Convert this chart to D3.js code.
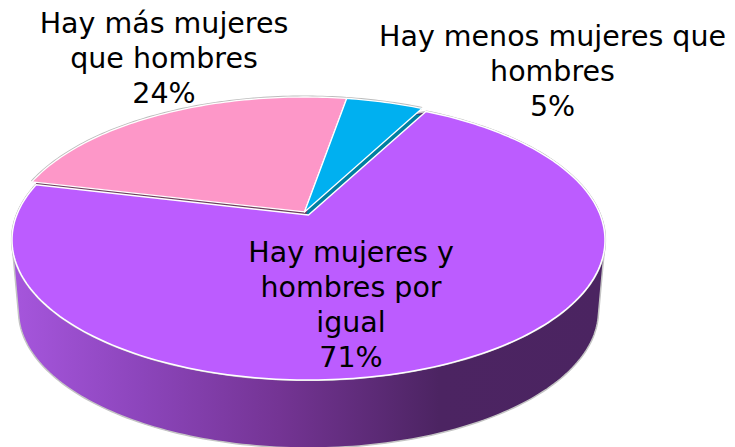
<!DOCTYPE html>
<html>
<head>
<meta charset="utf-8">
<script src="https://cdn.jsdelivr.net/npm/d3@7"></script>
<style>
html, body { margin: 0; padding: 0; background: #fff; }
svg { display: block; }
text { font-family: "DejaVu Sans", Inter, sans-serif; font-size: 28.5px; fill: #000; text-anchor: middle; }
</style>
</head>
<body>
<svg id="chart" width="735" height="447"></svg>
<script>
"use strict";

var categories = ["Hay mujeres y hombres por igual", "Hay más mujeres que hombres", "Hay menos mujeres que hombres"];
var values = [71, 24, 5];
var labelLines = [
    ["Hay mujeres y", "hombres por", "igual", "71%"],
    ["Hay más mujeres", "que hombres", "24%"],
    ["Hay menos mujeres que", "hombres", "5%"]
];
var colors = ["#bc5cff", "#fd97c8", "#00b0f0"];
var sideColors = ["#4b2461", "#6d3e5c", "#007fa0"];
var labelX = [351, 164, 552.5];
var labelY = [262, 33, 46];
var lineHeight = 35;

var svg = d3.select("#chart");

var defs = svg.append("defs");
var wallGradient = defs.append("linearGradient")
    .attr("id", "wall")
    .attr("gradientUnits", "userSpaceOnUse")
    .attr("x1", 12).attr("x2", 605).attr("y1", 0).attr("y2", 0);
wallGradient.append("stop").attr("offset", "0").attr("stop-color", "#a656dd");
wallGradient.append("stop").attr("offset", "0.22").attr("stop-color", "#8c45bb");
wallGradient.append("stop").attr("offset", "0.45").attr("stop-color", "#743494");
wallGradient.append("stop").attr("offset", "0.72").attr("stop-color", "#4c2462");
wallGradient.append("stop").attr("offset", "1").attr("stop-color", "#4b2461");

// the pie is seen in perspective: the centre sits above the middle of the ellipse
var tilt = -0.179;
var top_ = { cx: 308.5, cy: 240, rx: 296.5, ry: 140 };
var bottom = { cx: 308.5, cy: 311, rx: 290, ry: 137 };

function project(angle, r, e, dx, dy) {
    var u = Math.sin(angle) * r;
    var v = -Math.cos(angle) * r;
    var w = 1 + tilt * v;
    var s = Math.sqrt(1 - tilt * tilt);
    return [e.cx + e.rx * u * s / w + dx, e.cy + e.ry * (v + tilt) / w + dy];
}

function rimPoints(a0, a1, e, dx, dy) {
    var n = Math.ceil(Math.abs(a1 - a0) / 0.02);
    return d3.range(n + 1).map(function (i) {
        return project(a0 + (a1 - a0) * i / n, 1, e, dx, dy);
    });
}

var pie = d3.pie().sort(null)
    .startAngle(27.8 * Math.PI / 180)
    .endAngle(387.8 * Math.PI / 180);
var arcs = pie(values);
var line = d3.line();

// exploded offset of each slice
var shift = [[0, 0], [-4, -3], [-4, -3]];
var cutDepth = [0, 6, 7];

function slicePath(d, i, extraY) {
    var dx = shift[i][0];
    var dy = shift[i][1] + extraY;
    var pts = [project(0, 0, top_, dx, dy)]
        .concat(rimPoints(d.startAngle, d.endAngle, top_, dx, dy));
    return line(pts) + "Z";
}

function drawSlice(i) {
    var d = arcs[i];
    // thin cut face showing under the pulled out slice
    svg.append("path").attr("d", slicePath(d, i, cutDepth[i]))
        .attr("fill", sideColors[i]);
    svg.append("path")
        .attr("d", line(rimPoints(d.startAngle, d.endAngle, top_, shift[i][0], shift[i][1])))
        .attr("fill", "none").attr("stroke", "#bdbdbd").attr("stroke-width", 3);
    svg.append("path").attr("d", slicePath(d, i, 0))
        .attr("fill", colors[i])
        .attr("stroke", "#fff").attr("stroke-width", 1.3)
        .attr("stroke-linejoin", "round");
}

// wall goes in first, the hull of both rims gives straight sides
var big = arcs[0];
var wallPts = d3.polygonHull(rimPoints(big.startAngle, big.endAngle, top_, 0, 0)
    .concat(rimPoints(big.startAngle, big.endAngle, bottom, 0, 0)));
svg.append("path")
    .attr("d", line(wallPts) + "Z")
    .attr("fill", "url(#wall)")
    .attr("stroke", "#c4c4c4").attr("stroke-width", 1.5);

drawSlice(1);
drawSlice(2);

svg.append("path")
    .attr("d", line(rimPoints(big.startAngle, big.endAngle, top_, 0, 0)))
    .attr("fill", "none").attr("stroke", "#bdbdbd").attr("stroke-width", 2.2);
svg.append("path")
    .attr("d", slicePath(big, 0, 0))
    .attr("fill", colors[0])
    .attr("stroke", "#fff").attr("stroke-width", 1.5)
    .attr("stroke-linejoin", "round");

labelLines.forEach(function (lines, i) {
    var label = svg.append("text").attr("class", "label").attr("data-category", categories[i]);
    lines.forEach(function (s, j) {
        label.append("tspan")
            .attr("x", labelX[i])
            .attr("y", labelY[i] + j * lineHeight)
            .text(s);
    });
});
</script>
</body>
</html>
